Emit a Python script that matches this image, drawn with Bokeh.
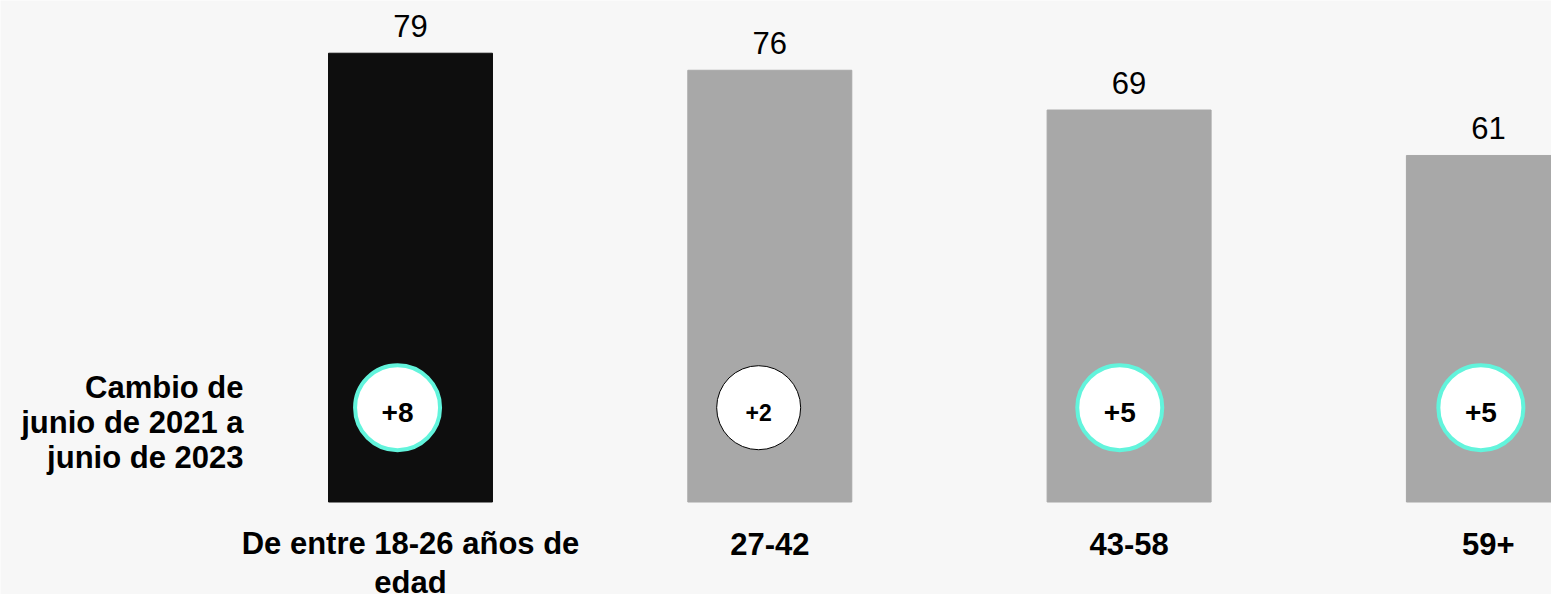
from bokeh.plotting import figure
from bokeh.models import ColumnDataSource, Range1d
from bokeh.core.properties import value
from bokeh.embed import file_html
from bokeh.resources import INLINE

# Share of respondents by age group, June 2023, and change since June 2021
groups = ["De entre 18-26 años de\nedad", "27-42", "43-58", "59+"]
shares = [79, 76, 69, 61]
changes = ["+8", "+2", "+5", "+5"]
significant = [True, False, True, True]
change_title = "Cambio de\njunio de 2021 a\njunio de 2023"

FONT = value("Liberation Sans")
BG = "#f7f7f7"
DARK = "#0e0e0e"
GREY = "#a8a8a8"
TEAL = "#62f4dc"

idx = list(range(len(groups)))
bars = ColumnDataSource(dict(
    x=idx,
    top=shares,
    label=[str(v) for v in shares],
    color=[DARK] + [GREY] * (len(groups) - 1),
))

# badges sit slightly left of each bar centre, low on the bar
badge_y = 16.6
badges = ColumnDataSource(dict(
    x=[i * 1.005 - 0.036 for i in idx],
    y=[badge_y] * len(idx),
    text=changes,
    line_color=[TEAL if s else "#000000" for s in significant],
    line_width=[4 if s else 1 for s in significant],
    size=[85 if s else 84 for s in significant],
    font_size=["28px" if s else "23px" for s in significant],
))

# wrapped labels are laid out a little lower by the text box, so lift them
cats = ColumnDataSource(dict(
    x=idx,
    y=[0] * len(idx),
    text=groups,
    dy=[24 if "\n" in g else 30.5 for g in groups],
))

p = figure(
    width=1551, height=594,
    x_range=Range1d(-1.1411, 3.1756), y_range=Range1d(-16.28, 88.28),
    output_backend="svg", toolbar_location=None,
    min_border=0, min_border_left=0, min_border_right=0,
    min_border_top=0, min_border_bottom=0,
    background_fill_color=BG, border_fill_color=BG, outline_line_color=None,
)
p.axis.visible = False
p.grid.visible = False

p.vbar(x="x", top="top", bottom=0, width=0.4564, color="color", source=bars)

# value above each bar
p.text(x="x", y="top", text="label", source=bars,
       text_font=FONT, text_font_size="31px", text_color="#000000",
       text_align="center", text_baseline="alphabetic", y_offset=-27)

# change badges
p.scatter(x="x", y="y", size="size", fill_color="white",
          line_color="line_color", line_width="line_width", source=badges)
p.text(x="x", y="y", text="text", source=badges,
       text_font=FONT, text_font_size="font_size", text_font_style="bold",
       text_color="#000000", text_align="center", text_baseline="alphabetic",
       y_offset=5)

# category labels under the bars
p.text(x="x", y="y", text="text", source=cats,
       text_font=FONT, text_font_size="31px", text_font_style="bold",
       text_color="#000000", text_align="center", text_baseline="top",
       text_line_height=1.12, y_offset="dy")

# row title for the badges
p.text(x=[-0.4648], y=[14.0], text=[change_title],
       text_font=FONT, text_font_size="31px", text_font_style="bold",
       text_color="#000000", text_align="right", text_baseline="middle",
       text_line_height=1.0)

open("out.html", "w").write(file_html(p, INLINE))
